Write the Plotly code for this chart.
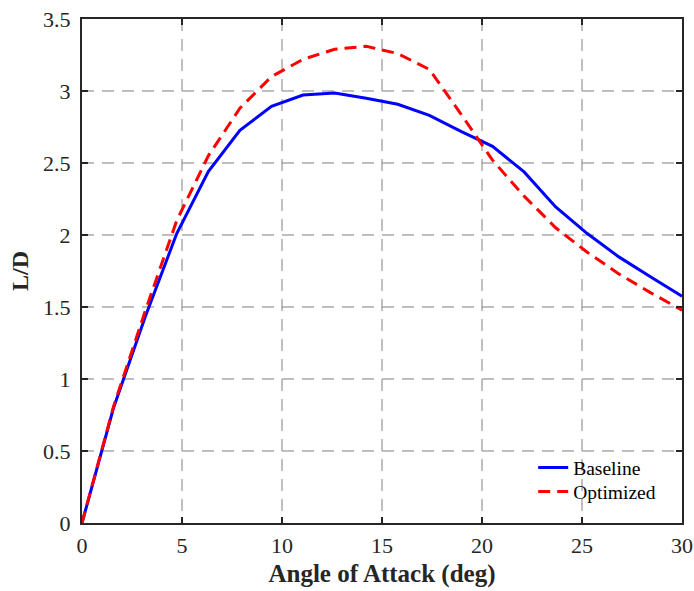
import numpy as np
import plotly.graph_objects as go

aoa = [0, 1.579, 3.158, 4.737, 6.316, 7.895, 9.474, 11.053, 12.632, 14.211,
       15.789, 17.368, 18.947, 20.526, 22.105, 23.684, 25.263, 26.842, 28.421, 30]
baseline = [0, 0.80, 1.43, 2.01, 2.44, 2.727, 2.894, 2.972, 2.986, 2.95,
            2.908, 2.831, 2.72, 2.616, 2.438, 2.195, 2.01, 1.848, 1.71, 1.575]
optimized = [0, 0.81, 1.47, 2.10, 2.55, 2.88, 3.10, 3.22, 3.29, 3.31,
             3.26, 3.15, 2.84, 2.52, 2.27, 2.05, 1.88, 1.73, 1.60, 1.478]

xticks = [0, 5, 10, 15, 20, 25, 30]
yticks = [0, 0.5, 1, 1.5, 2, 2.5, 3, 3.5]
ytick_text = ["0", "0.5", "1", "1.5", "2", "2.5", "3", "3.5"]

font = "Liberation Serif"

fig = go.Figure()
fig.add_trace(go.Scatter(x=aoa, y=baseline, mode="lines", name="Baseline",
                         line=dict(color="#0000ff", width=3), legend="legend"))
fig.add_trace(go.Scatter(x=aoa, y=optimized, mode="lines", name="Optimized",
                         line=dict(color="#ff0000", width=3, dash="12px,7px"),
                         legend="legend2"))

axis_common = dict(
    showline=True, linecolor="#262626", linewidth=2, mirror="ticks",
    ticks="inside", ticklen=6, tickwidth=2, tickcolor="#262626",
    showgrid=True, gridcolor="rgba(128,128,128,0.5)", gridwidth=1.5,
    griddash="12px,8px", zeroline=False, automargin=False,
    tickfont=dict(family=font, size=22, color="#262626"),
)

fig.update_xaxes(range=[0, 30], tickvals=xticks, ticktext=[str(t) for t in xticks],
                 ticklabelstandoff=2,
                 title=dict(text="<b>Angle of Attack (deg)</b>",
                            font=dict(family=font, size=25, color="#262626"), standoff=7),
                 **axis_common)
fig.update_yaxes(range=[0, 3.5], tickvals=yticks, ticktext=ytick_text,
                 ticklabelstandoff=5,
                 title=dict(text="<b>L/D</b>",
                            font=dict(family=font, size=24, color="#262626"), standoff=8),
                 **axis_common)

leg_common = dict(xanchor="left", yanchor="top", bgcolor="rgba(255,255,255,0)",
                  borderwidth=0, font=dict(family=font, size=19.5, color="#000000"))

fig.update_layout(
    width=694, height=591,
    margin=dict(l=82, r=12, t=19, b=68, autoexpand=False),
    paper_bgcolor="white", plot_bgcolor="white",
    font=dict(family=font, color="#262626"),
    legend=dict(x=0.752, y=0.148, **leg_common),
    legend2=dict(x=0.752, y=0.1004, **leg_common),
    showlegend=True,
)

fig.write_html("out.html")
